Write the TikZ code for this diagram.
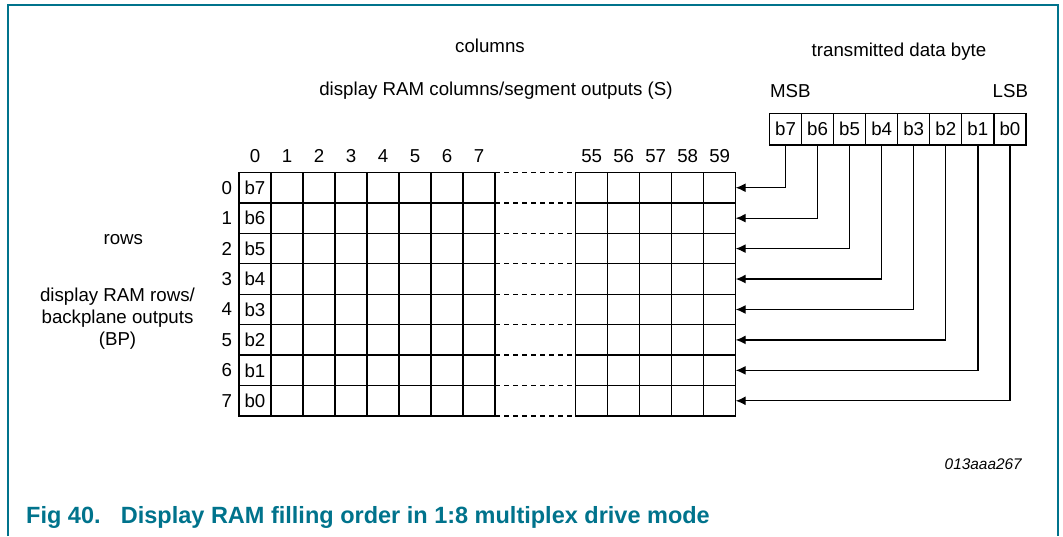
\documentclass[tikz,border=0pt]{standalone}
\usepackage{fontspec}
\setmainfont{Liberation Sans}
\usetikzlibrary{arrows.meta}
\definecolor{nxpteal}{RGB}{0,115,140}
\begin{document}
\begin{tikzpicture}[x=1pt,y=-1pt,
  lbl/.style={font=\fontsize{18.7}{21.6}\selectfont, inner sep=0pt, outer sep=0pt},
  cell/.style={draw, line width=1.3pt, minimum width=32pt, minimum height=30.44pt,
    inner sep=0pt, outer sep=0pt, anchor=north west, font=\fontsize{18.7}{21.6}\selectfont},
  bitcell/.style={draw, line width=1.3pt, minimum width=32.06pt, minimum height=31.7pt,
    inner sep=0pt, outer sep=0pt, font=\fontsize{18.7}{21.6}\selectfont},
  feed/.style={line width=1.3pt, -{Latex[length=10pt,width=9pt]}},
  gapline/.style={line width=1.3pt, dash pattern=on 5pt off 4pt},
  frameline/.style={draw=nxpteal, line width=2pt},
  caption/.style={font=\fontsize{23.5}{27}\selectfont\bfseries, text=nxpteal, inner sep=0pt, anchor=base west}]
\useasboundingbox (0,0) rectangle (1063,536);

% frame
\draw[frameline] (8,536) -- (8,4.5) -- (1058,4.5) -- (1058,536);

% headings
\node[lbl, anchor=base] (hcol) at (490,52.7) {columns};
\node[lbl, anchor=base] (hcols) at (496,95) {display RAM columns/segment outputs (S)};
\node[lbl, anchor=base] (hbyte) at (899,56) {transmitted data byte};
\node[lbl, anchor=base west] (msb) at (770,97.7) {MSB};
\node[lbl, anchor=base east] (lsb) at (1028,97.7) {LSB};

\node[lbl, anchor=base] (hrow) at (123.3,244) {rows};
\node[lbl, anchor=base] (hrows1) at (117.5,301.7) {display RAM rows/};
\node[lbl, anchor=base] (hrows2) at (117.5,323.3) {backplane outputs};
\node[lbl, anchor=base] (hrows3) at (117.5,345) {(BP)};

% byte cells
\foreach \k in {7,...,0} {
  \pgfmathsetmacro\bx{785.5+32.06*(7-\k)}
  \node[bitcell] (bit\k) at (\bx,129.2) {b\k};
}

% grid
\foreach \r in {0,...,7} {
  \pgfmathsetmacro\ry{172.5+30.44*\r}
  \pgfmathtruncatemacro\bv{7-\r}
  \foreach \c in {0,...,7} {
    \ifnum\c=0
      \node[cell] (g-\r-\c) at (239+32*\c,\ry) {b\bv};
    \else
      \node[cell] (g-\r-\c) at (239+32*\c,\ry) {};
    \fi
  }
  \foreach \c in {55,...,59} {
    \node[cell] (g-\r-\c) at (575.7+32*\c-32*55,\ry) {};
  }
  \node[lbl, anchor=east] (rl\r) at ([xshift=-7pt]g-\r-0.west) {\r};
  \draw[gapline] (g-\r-7.north east) -- (g-\r-55.north west);
  \draw[feed] (bit\bv.south) |- (g-\r-59.east);
}
\draw[gapline] (g-7-7.south east) -- (g-7-55.south west);

% column numbers
\foreach \c in {0,...,7} {
  \node[lbl, anchor=base] (cl\c) at (255+32*\c,162.7) {\c};
}
\foreach \c in {55,...,59} {
  \node[lbl, anchor=base] (cl\c) at (591.7+32*\c-32*55,162.7) {\c};
}

% figure id
\node[font=\fontsize{15.4}{18}\selectfont\itshape, inner sep=0pt, anchor=base east] (figid) at (1022,469.3) {013aaa267};

% caption
\node[caption] (capnum) at (26,523.3) {Fig 40.};
\node[caption] (captext) at (120.7,523.3) {Display RAM filling order in 1:8 multiplex drive mode};
\end{tikzpicture}
\end{document}
